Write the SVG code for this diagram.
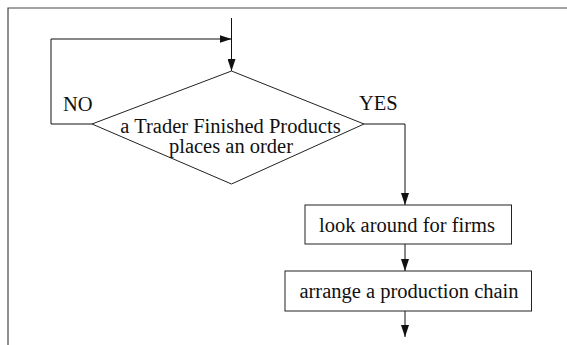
<svg xmlns="http://www.w3.org/2000/svg" width="567" height="345" viewBox="0 0 567 345">
  <style>
    .frame { fill: none; stroke: #444; stroke-width: 1.2; }
    .shape { fill: #fff; stroke: #222; stroke-width: 1; }
    .wire { fill: none; stroke: #111; stroke-width: 1; }
  </style>
  <defs>
    <marker id="arrow" viewBox="0 0 12 8" refX="12" refY="4" markerWidth="12" markerHeight="8" markerUnits="userSpaceOnUse" orient="auto">
      <path d="M0,0 L12,4 L0,8 z" fill="#111"/>
    </marker>
  </defs>

  <!-- outer frame -->
  <path class="frame" d="M8,345 V8 H567"/>

  <!-- connectors -->
  <g id="connectors">
    <path class="wire" d="M231.5,18 V71" marker-end="url(#arrow)"/>
    <path class="wire" d="M92,124 H51 V39 H231.5" marker-end="url(#arrow)"/>
    <path class="wire" d="M364,124 H405 V205" marker-end="url(#arrow)"/>
    <path class="wire" d="M405,244 V271" marker-end="url(#arrow)"/>
    <path class="wire" d="M405,311 V337" marker-end="url(#arrow)"/>
  </g>

  <g font-family="Liberation Serif, Times New Roman, serif" font-size="20.5" fill="#111">
    <g id="branch-labels">
      <text x="63" y="111">NO</text>
      <text x="359" y="110">YES</text>
    </g>

    <!-- decision -->
    <g id="decision">
      <polygon class="shape" points="231.5,71 364,124 231.5,184 92,124"/>
      <text text-anchor="middle" x="230.5" y="132.5">a Trader Finished Products</text>
      <text text-anchor="middle" x="231" y="152.5">places an order</text>
    </g>

    <!-- step: look around -->
    <g id="look-around">
      <rect class="shape" x="305" y="205" width="206.5" height="39"/>
      <text text-anchor="middle" x="407" y="231.5">look around for firms</text>
    </g>

    <!-- step: production chain -->
    <g id="production-chain">
      <rect class="shape" x="285" y="271" width="246.5" height="40"/>
      <text text-anchor="middle" x="409" y="298">arrange a production chain</text>
    </g>
  </g>
</svg>
